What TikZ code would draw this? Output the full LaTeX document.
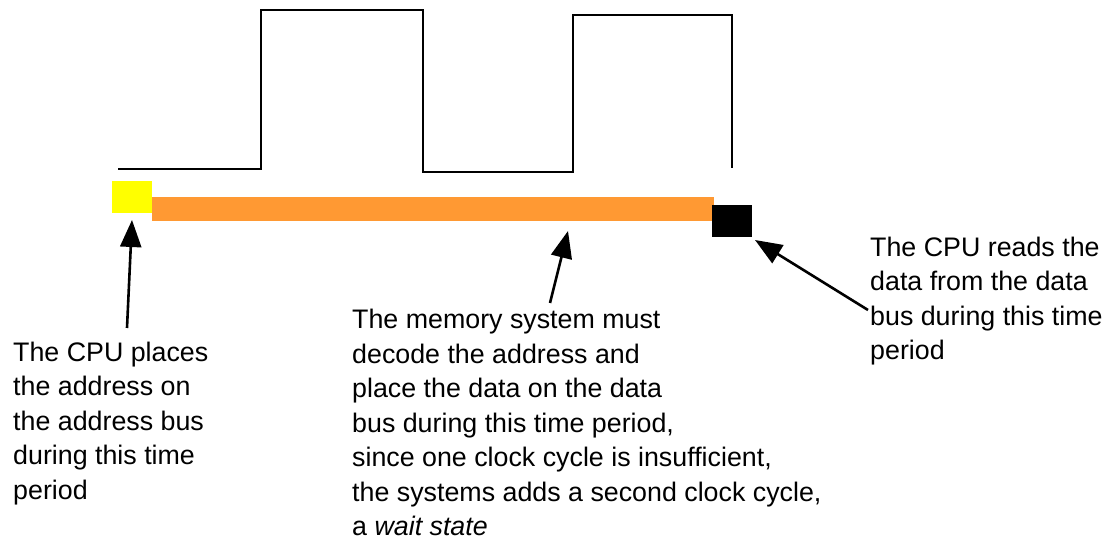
\documentclass[tikz,border=0pt]{standalone}
\usepackage{fontspec}
\setmainfont{Liberation Sans}
\usetikzlibrary{arrows.meta}
\definecolor{busorange}{HTML}{FF9933}
\definecolor{addryellow}{HTML}{FFFF00}
\tikzset{
  clockline/.style={line width=2pt, line join=miter},
  callout/.style={line width=2.6pt, -{Triangle[length=27pt,width=21pt]}},
  note/.style={anchor=north west, inner sep=0pt, align=left,
    font={\fontsize{26.8}{34.5}\selectfont}},
  blockbox/.style={draw=none, inner sep=0pt, anchor=north west}
}
\begin{document}
\begin{tikzpicture}[x=1pt,y=-1pt]
\useasboundingbox (0,0) rectangle (1112,540);
% clock
\draw[clockline] (118,169) -- (261,169) -- (261,10) -- (423,10) -- (423,172)
  -- (573,172) -- (573,15) -- (732,15) -- (732,168);
% bus timing blocks
\node[blockbox, fill=addryellow, minimum width=40pt, minimum height=32pt] (yel) at (112,181) {};
\node[blockbox, fill=busorange, minimum width=562pt, minimum height=24pt] (org) at (152,197) {};
\node[blockbox, fill=black, minimum width=40pt, minimum height=32pt] (blk) at (712,205) {};
% texts
\node[note] (t1) at (13,341.5) {The CPU places\\the address on\\the address bus\\during this time\\period};
\node[note] (t2) at (352,309) {The memory system must\\decode the address and\\place the data on the data\\bus during this time period,\\since one clock cycle is insufficient,\\the systems adds a second clock cycle,\\a \textit{wait state}};
\node[note] (t3) at (870,236.5) {The CPU reads the\\data from the data\\bus during this time\\period};
% arrow end points
\coordinate (a1) at (127,328);
\coordinate (b1) at (132,220);
\coordinate (a2) at (550,303);
\coordinate (b2) at (568,231);
\coordinate (a3) at (868,310);
\coordinate (b3) at (755,240);
\draw[callout] (a1) -- (b1);
\draw[callout] (a2) -- (b2);
\draw[callout] (a3) -- (b3);
\end{tikzpicture}
\end{document}
